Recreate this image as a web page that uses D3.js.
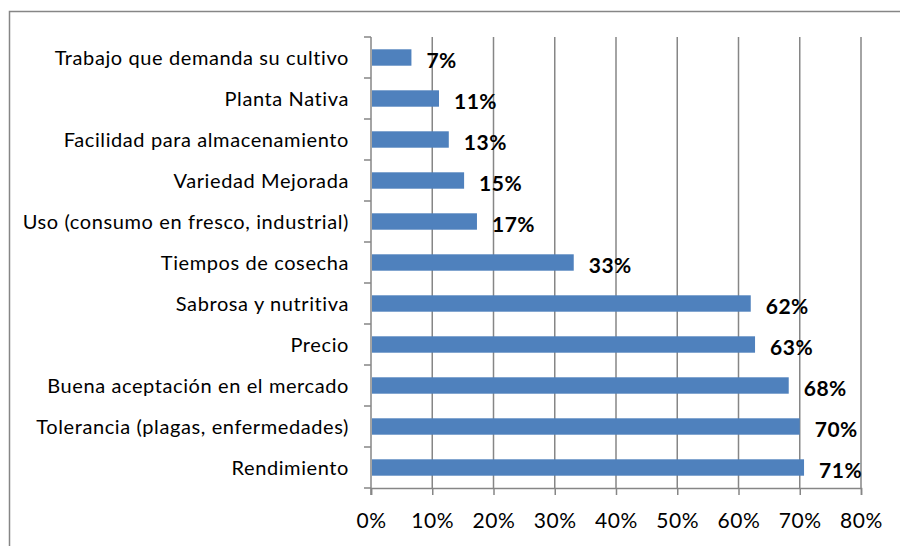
<!DOCTYPE html>
<html>
<head>
    <meta charset="utf-8">
    <style>
        body {
            margin: 0;
            background-color: #FFF;
        }
        svg text {
            font-family: Lato, "Liberation Sans", sans-serif;
            fill: #000;
        }
    </style>
</head>
<body>
<div id="chartArea"></div>
<script src="https://cdnjs.cloudflare.com/ajax/libs/d3/7.8.5/d3.min.js"></script>
<script>
    /* -----------------------------------
        data
    ----------------------------------- */
    var categories = [
        "Trabajo que demanda su cultivo",
        "Planta Nativa",
        "Facilidad para almacenamiento",
        "Variedad Mejorada",
        "Uso (consumo en fresco, industrial)",
        "Tiempos de cosecha",
        "Sabrosa y nutritiva",
        "Precio",
        "Buena aceptación en el mercado",
        "Tolerancia (plagas, enfermedades)",
        "Rendimiento"
    ];
    var values = [0.066, 0.111, 0.127, 0.152, 0.173, 0.331, 0.62, 0.627, 0.682, 0.70, 0.707];
    var valueLabels = ["7%", "11%", "13%", "15%", "17%", "33%", "62%", "63%", "68%", "70%", "71%"];
    var xTicks = [0, 0.1, 0.2, 0.3, 0.4, 0.5, 0.6, 0.7, 0.8];

    /* -----------------------------------
        initialize
    ----------------------------------- */
    var width = 900, height = 546;
    var margin = {top: 37, right: 39, bottom: 58, left: 371},
        cWidth = width - margin.left - margin.right,
        cHeight = height - margin.top - margin.bottom;

    var svg = d3.select("#chartArea").append("svg")
        .attr("width", width)
        .attr("height", height);

    // outer chart frame (only top and left visible)
    svg.append("path")
        .attr("d", "M9.5,546 V11.5 H900")
        .attr("fill", "none")
        .attr("stroke", "#868686")
        .attr("stroke-width", 1.5);

    var g = svg.append("g")
        .attr("transform", "translate(" + margin.left + "," + margin.top + ")");

    var x = d3.scaleLinear().domain([0, 0.8]).range([0, cWidth]);
    var y = d3.scaleBand().domain(categories).range([0, cHeight]).paddingInner(0.6).paddingOuter(0.3);
    var yEdge = d3.scaleLinear().domain([0, categories.length]).range([0, cHeight]);

    // gridlines
    g.selectAll(".grid").data(xTicks.slice(1)).enter()
        .append("line")
        .attr("class", "grid")
        .attr("x1", function(d) { return x(d); })
        .attr("x2", function(d) { return x(d); })
        .attr("y1", 0)
        .attr("y2", cHeight)
        .attr("stroke", "#868686")
        .attr("stroke-width", 1.5);

    // bars
    g.selectAll(".bar").data(values).enter()
        .append("rect")
        .attr("class", "bar")
        .attr("x", 1)
        .attr("y", function(d, i) { return y(categories[i]); })
        .attr("width", function(d) { return x(d) - 1; })
        .attr("height", y.bandwidth())
        .attr("fill", "#4F81BD");

    // value labels
    g.selectAll(".val").data(values).enter()
        .append("text")
        .attr("class", "val")
        .attr("x", function(d) { return x(d) + 15; })
        .attr("y", function(d, i) { return y(categories[i]) + y.bandwidth() / 2 + 10; })
        .style("font-size", "21px")
        .style("font-weight", "bold")
        .style("letter-spacing", "0.5px")
        .text(function(d, i) { return valueLabels[i]; });

    // x axis
    var xAxis = d3.axisBottom(x).tickValues(xTicks).tickFormat(d3.format(".0%"))
        .tickSize(7).tickPadding(18);
    var gx = g.append("g")
        .attr("transform", "translate(0," + cHeight + ")")
        .call(xAxis);
    gx.select(".domain").attr("stroke", "#868686").attr("stroke-width", 1.5);
    gx.selectAll(".tick line").attr("stroke", "#868686").attr("stroke-width", 1.5);
    gx.selectAll(".tick text")
        .style("font-size", "21px")
        .style("letter-spacing", "0.6px")
        .style("font-family", "Lato, sans-serif")
        .attr("fill", "#000");

    // y axis line and tick marks at category boundaries
    g.append("line")
        .attr("x1", 0).attr("x2", 0)
        .attr("y1", 0).attr("y2", cHeight + 7)
        .attr("stroke", "#868686")
        .attr("stroke-width", 1.5);
    g.selectAll(".ytick").data(d3.range(categories.length + 1)).enter()
        .append("line")
        .attr("class", "ytick")
        .attr("x1", -7).attr("x2", 0)
        .attr("y1", function(d) { return yEdge(d); })
        .attr("y2", function(d) { return yEdge(d); })
        .attr("stroke", "#868686")
        .attr("stroke-width", 1.5);

    // category labels
    g.selectAll(".cat").data(categories).enter()
        .append("text")
        .attr("class", "cat")
        .attr("x", -22)
        .attr("y", function(d) { return y(d) + y.bandwidth() / 2 + 7; })
        .attr("text-anchor", "end")
        .style("font-size", "20px")
        .style("letter-spacing", "0.6px")
        .text(function(d) { return d; });
</script>
</body>
</html>
